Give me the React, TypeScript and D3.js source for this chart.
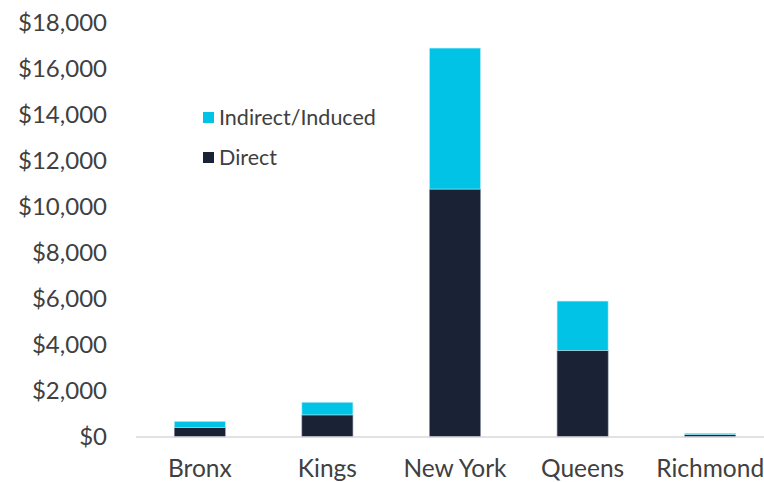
import React from "react";
import * as d3 from "d3";

const categories = ["Bronx", "Kings", "New York", "Queens", "Richmond"];
const direct = [420, 960, 10780, 3770, 100];
const indirectInduced = [260, 550, 6130, 2140, 60];
const yTicks = [0, 2000, 4000, 6000, 8000, 10000, 12000, 14000, 16000, 18000];
const seriesNames = ["Indirect/Induced", "Direct"];

const W = 764;
const H = 482;
const DARK = "#1a2236";
const CYAN = "#00c3e6";
const TEXT = "#404040";
const FONT = "Lato, 'Open Sans', sans-serif";

export default function App() {
  const x = d3.scaleBand<string>().domain(categories).range([136, 774]).paddingInner(0.6).paddingOuter(0.3);
  const y = d3.scaleLinear().domain([0, 18000]).range([437, 23]);
  const fmt = (v: number) => "$" + d3.format(",")(v);
  const bw = x.bandwidth();

  return (
    <svg width={W} height={H} style={{ position: "absolute", left: 0, top: 0 }}>
      <rect width={W} height={H} fill="#ffffff" />
      {yTicks.map((t) => (
        <text key={t} x={107} y={y(t)} dy="0.35em" textAnchor="end" fontFamily={FONT} fontSize={24} fill={TEXT}>
          {fmt(t)}
        </text>
      ))}
      {categories.map((c, i) => {
        const x0 = x(c)!;
        const d = direct[i];
        const ind = indirectInduced[i];
        return (
          <g key={c}>
            <rect x={x0} y={y(d)} width={bw} height={y(0) - y(d)} fill={DARK} stroke="#8a93a3" strokeWidth={0.6} />
            <rect x={x0} y={y(d + ind)} width={bw} height={y(d) - y(d + ind)} fill={CYAN} stroke="#b8ecf7" strokeWidth={0.6} />
            <text x={x0 + bw / 2} y={468} dy="0.35em" textAnchor="middle" fontFamily={FONT} fontSize={24.5} fill={TEXT}>
              {c}
            </text>
          </g>
        );
      })}
      <line x1={136} x2={W} y1={y(0)} y2={y(0)} stroke="#d9d9d9" strokeWidth={1.5} />
      {seriesNames.map((s, i) => (
        <g key={s} transform={`translate(203, ${112 + i * 40})`}>
          <rect x={0} y={0} width={11} height={11} fill={i === 0 ? CYAN : DARK} />
          <text x={16} y={5.5} dy="0.35em" fontFamily={FONT} fontSize={21.5} fill={TEXT}>
            {s}
          </text>
        </g>
      ))}
    </svg>
  );
}
